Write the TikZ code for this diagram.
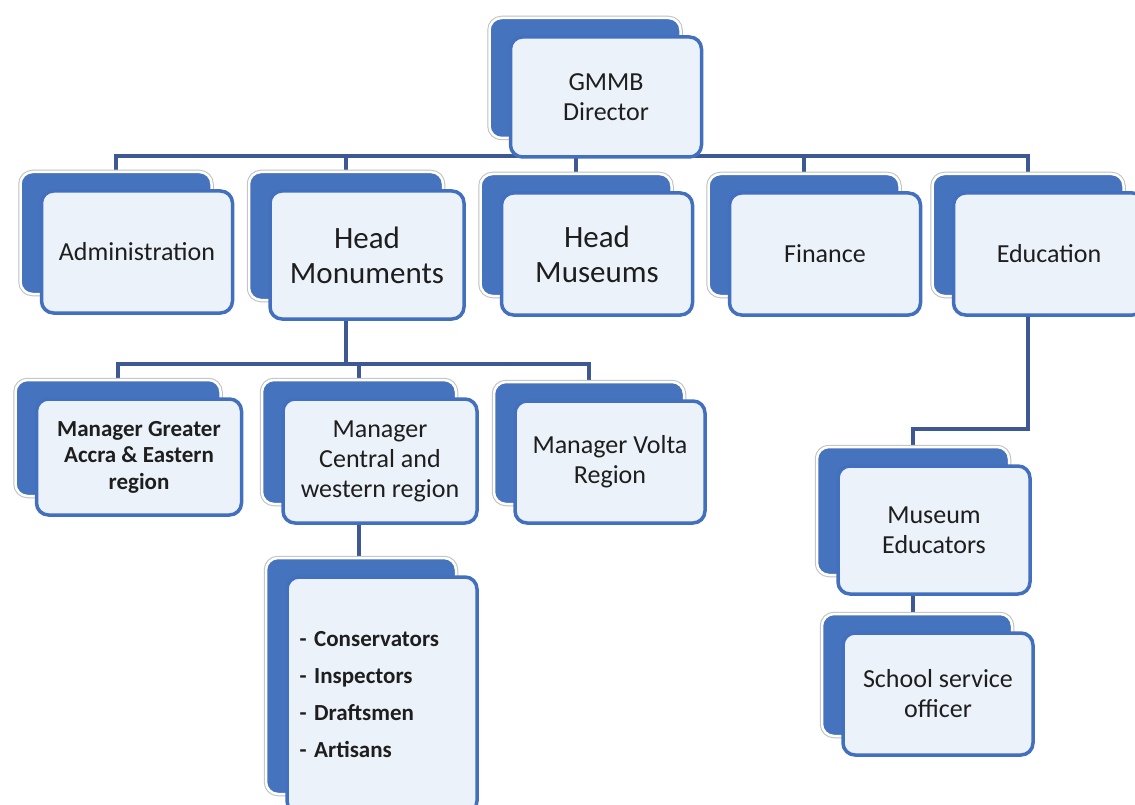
\documentclass[tikz,border=0pt]{standalone}
\usepackage{fontspec}
\setmainfont{Carlito}
\usetikzlibrary{backgrounds,positioning,calc}
\definecolor{backColor}{RGB}{70,115,190}
\definecolor{frontColor}{RGB}{236,242,249}
\definecolor{rimColor}{RGB}{66,112,190}
\definecolor{lineColor}{RGB}{62,88,148}
\definecolor{textColor}{RGB}{30,30,30}

\begin{document}
\begin{tikzpicture}[x=1pt, y=-1pt,
backbox/.style={
    draw=white, line width=2.5pt, fill=backColor, rounded corners=12pt,
    preaction={draw=black!25, line width=4.5pt}},
frontbox/.style={
    draw=rimColor, line width=3.5pt, fill=frontColor, rounded corners=12pt,
    align=center, text=textColor, inner sep=2pt,
    font=\fontsize{26}{30}\selectfont},
headbox/.style={
    frontbox, font=\fontsize{31}{35}\selectfont},
boldbox/.style={
    frontbox, font=\fontsize{23}{26.5}\selectfont\bfseries},
listbox/.style={
    frontbox, align=left, text width=165,
    font=\fontsize{23}{37}\selectfont\bfseries},
topsize/.style={
    minimum width=191, minimum height=122},
conn/.style={
    draw=lineColor, line width=4pt}
]

\clip (0,0) rectangle (1135,805);

% back boxes
\node[backbox, topsize, minimum height=120] (dirBack) at (585,78) {};
\node[backbox, topsize] (adminBack) at (116,233) {};
\node[backbox, topsize, minimum width=194, minimum height=128] (headMonBack) at (346,236) {};
\node[backbox, topsize] (headMusBack) at (576,235) {};
\node[backbox, topsize] (finBack) at (804,235) {};
\node[backbox, topsize] (eduBack) at (1028,235) {};
\node[backbox, minimum width=205, minimum height=116] (accraBack) at (118,438) {};
\node[backbox, minimum width=194, minimum height=124] (centralBack) at (359,442) {};
\node[backbox, minimum width=190, minimum height=122] (voltaBack) at (589,443) {};
\node[backbox, minimum width=190, minimum height=236] (staffBack) at (361,676) {};
\node[backbox, minimum width=192, minimum height=128] (educatorsBack) at (913,511) {};
\node[backbox, minimum width=190, minimum height=122] (schoolBack) at (917,675) {};

% front boxes
\node[frontbox, topsize, minimum height=120] (dir) at (606,97) {GMMB\\Director};
\node[frontbox, topsize] (admin) at (137,252) {Administration};
\node[headbox, topsize, minimum width=194, minimum height=128] (headMon) at (367,255) {Head\\Monuments};
\node[headbox, topsize] (headMus) at (597,254) {Head\\Museums};
\node[frontbox, topsize] (fin) at (825,254) {Finance};
\node[frontbox, topsize] (edu) at (1049,254) {Education};
\node[boldbox, minimum width=205, minimum height=116] (accra) at (139,457)
    {Manager Greater\\Accra \& Eastern\\region};
\node[frontbox, minimum width=194, minimum height=124] (central) at (380,461)
    {Manager\\Central and\\western region};
\node[frontbox, minimum width=190, minimum height=122] (volta) at (610,462)
    {Manager Volta\\Region};
\node[listbox, minimum width=190, minimum height=236] (staff) at (382,695)
    {- Conservators\\- Inspectors\\- Draftsmen\\- Artisans};
\node[frontbox, minimum width=192, minimum height=128] (educators) at (934,530)
    {Museum\\Educators};
\node[frontbox, minimum width=190, minimum height=122] (school) at (938,694)
    {School service\\officer};

\begin{scope}[on background layer]
    \draw[conn] (dirBack.south) -- ++(0,17) coordinate (busTop);
    \foreach \to in {adminBack, headMonBack, headMusBack, finBack, eduBack}
        \draw[conn] (busTop) -| (\to.north);

    \draw[conn] (headMonBack.south) -- ++(0,63) coordinate (busMon);
    \foreach \to in {accraBack, centralBack, voltaBack}
        \draw[conn] (busMon) -| (\to.north);

    \draw[conn] (centralBack.south) -- (centralBack.south |- staffBack.north);
    \draw[conn] (eduBack.south) -- ++(0,132) -| (educatorsBack.north);
    \draw[conn] (educatorsBack.south) -- (educatorsBack.south |- schoolBack.north);
\end{scope}

\end{tikzpicture}
\end{document}
